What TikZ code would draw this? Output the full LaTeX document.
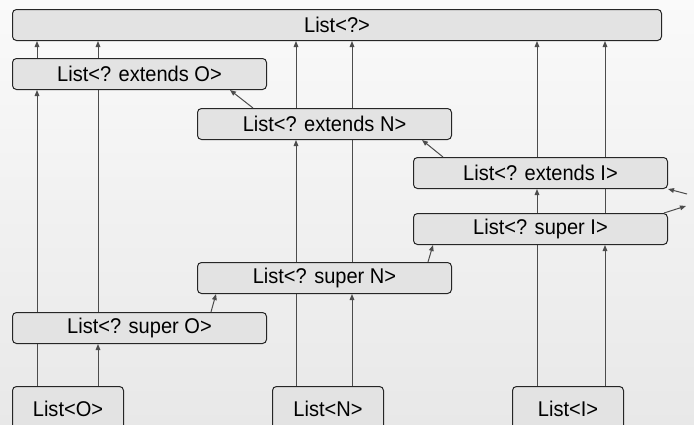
\documentclass[tikz,border=0pt]{standalone}
\usepackage{fontspec}
\setmainfont{Liberation Sans}[FakeStretch=0.94]
\usetikzlibrary{arrows.meta,calc,backgrounds}

\begin{document}
\begin{tikzpicture}[
      x=0.75pt, y=-0.75pt,
      >={Triangle[length=4.5pt,width=3.5pt]},
      font=\fontsize{16}{18}\selectfont,
      box/.style={draw=black!85, line width=0.75pt, rounded corners=3pt,
                  fill=black!11, anchor=north west, inner sep=0pt,
                  minimum height=23.25pt},
      wide/.style={box, minimum width=190.5pt},
      leaf/.style={box, minimum width=83.25pt, minimum height=33pt},
      arr/.style={->, draw=black!70, line width=0.75pt},
    ]
    \useasboundingbox (0,0) rectangle (694,425);
    \begin{scope}[on background layer]
      \fill[top color=black!2, bottom color=black!9] (0,0) rectangle (694,425);
    \end{scope}

    \node[box, minimum width=486.75pt] (top) at (12,9) {List<?>};
    \node[wide] (extO) at (12,58)  {List<? extends O>};
    \node[wide] (extN) at (197,108) {List<? extends N>};
    \node[wide] (extI) at (413,157) {List<? extends I>};
    \node[wide] (supI) at (413,213) {List<? super I>};
    \node[wide] (supN) at (197,262) {List<? super N>};
    \node[wide] (supO) at (12,312)  {List<? super O>};
    \node[leaf] (listO) at (12,386)  {List<O>};
    \node[leaf] (listN) at (272,386) {List<N>};
    \node[leaf] (listI) at (512,386) {List<I>};

    % vertical lanes
    \coordinate (o1) at (37,0);  \coordinate (o2) at (98,0);
    \coordinate (n1) at (296,0); \coordinate (n2) at (352,0);
    \coordinate (i1) at (537,0); \coordinate (i2) at (605,0);

    \begin{scope}[on background layer]
      \draw[arr] (listO.north -| o1) -- (extO.south -| o1);
      \draw[arr] (extO.north -| o1) -- (top.south -| o1);
      \draw[arr] (listO.north -| o2) -- (supO.south -| o2);
      \draw[arr] (supO.north -| o2) -- (top.south -| o2);
      \draw[arr] (listN.north -| n1) -- (extN.south -| n1);
      \draw[arr] (extN.north -| n1) -- (top.south -| n1);
      \draw[arr] (listN.north -| n2) -- (supN.south -| n2);
      \draw[arr] (supN.north -| n2) -- (top.south -| n2);
      \draw[arr] (listI.north -| i1) -- (extI.south -| i1);
      \draw[arr] (extI.north -| i1) -- (top.south -| i1);
      \draw[arr] (listI.north -| i2) -- (supI.south -| i2);
      \draw[arr] (supI.north -| i2) -- (top.south -| i2);
    \end{scope}

    % links between the wildcards
    \draw[arr] ($(extN.north west)+(56,0)$) -- ($(extO.south east)+(-37,0)$);
    \draw[arr] ($(extI.north west)+(30,0)$) -- ($(extN.south east)+(-30,0)$);
    \draw[arr] ($(supO.north east)+(-56,0)$) -- ($(supN.south west)+(19,0)$);
    \draw[arr] ($(supN.north east)+(-24,0)$) -- ($(supI.south west)+(20,0)$);

    \coordinate (inR) at (687,194);
    \coordinate (outR) at (686,206);
    \draw[arr] (inR) -- (extI.south east);
    \draw[arr] ($(supI.north east)+(-4,0)$) -- (outR);
  \end{tikzpicture}
\end{document}
